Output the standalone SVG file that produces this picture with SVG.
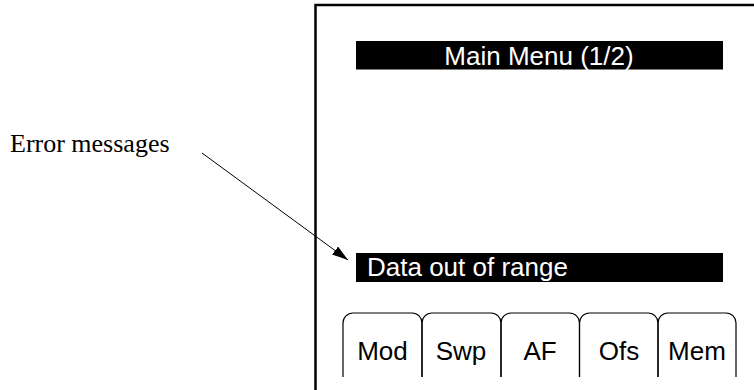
<svg xmlns="http://www.w3.org/2000/svg" width="754" height="390" viewBox="0 0 754 390">
<defs>
<style>
.bar{fill:#000}
.bt{font-family:"Liberation Sans",Arial,sans-serif;font-size:26px;fill:#fff}
.tab{fill:none;stroke:#000;stroke-width:1.2}
.tt{font-family:"Liberation Sans",Arial,sans-serif;font-size:26px;fill:#000;text-anchor:middle}
.lbl{font-family:"Liberation Serif","Times New Roman",serif;font-size:26px;fill:#000}
</style>
<marker id="ah" markerWidth="16" markerHeight="10" refX="16" refY="5" orient="auto" markerUnits="userSpaceOnUse">
<path d="M0,0 L16,5 L0,10 Z" fill="#000"/>
</marker>
</defs>
<rect width="754" height="390" fill="#fff"/>
<g id="frame">
<path d="M315.5,390 V5 H754" fill="none" stroke="#000" stroke-width="2.5"/>
</g>
<g id="title-bar">
<rect class="bar" x="356" y="41" width="367" height="28.5"/>
<text class="bt" x="539" y="65" text-anchor="middle">Main Menu (1/2)</text>
</g>
<g id="error-bar">
<rect class="bar" x="356" y="253" width="367" height="29"/>
<text class="bt" x="367" y="276">Data out of range</text>
</g>
<g id="tab-mod">
<path class="tab" d="M343,377 V323 A10,10 0 0 1 353,313 H412 A10,10 0 0 1 422,323 V377"/>
<text class="tt" x="382.5" y="360">Mod</text>
</g>
<g id="tab-swp">
<path class="tab" d="M422,377 V323 A10,10 0 0 1 432,313 H491 A10,10 0 0 1 501,323 V377"/>
<text class="tt" x="461" y="360">Swp</text>
</g>
<g id="tab-af">
<path class="tab" d="M501,377 V323 A10,10 0 0 1 511,313 H569.5 A10,10 0 0 1 579.5,323 V377"/>
<text class="tt" x="540" y="360">AF</text>
</g>
<g id="tab-ofs">
<path class="tab" d="M579.5,377 V323 A10,10 0 0 1 589.5,313 H648 A10,10 0 0 1 658,323 V377"/>
<text class="tt" x="619" y="360">Ofs</text>
</g>
<g id="tab-mem">
<path class="tab" d="M658,377 V323 A10,10 0 0 1 668,313 H726 A10,10 0 0 1 736,323 V377"/>
<text class="tt" x="697" y="360">Mem</text>
</g>
<g id="label">
<text class="lbl" x="10" y="152">Error messages</text>
</g>
<g id="connectors">
<line x1="202" y1="153" x2="348" y2="260" stroke="#000" stroke-width="1" marker-end="url(#ah)"/>
</g>
</svg>
